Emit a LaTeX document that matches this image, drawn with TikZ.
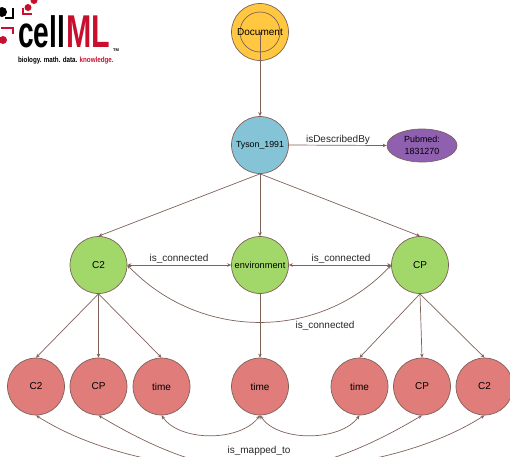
\documentclass[tikz,border=0pt]{standalone}
\usepackage{fontspec}
\setmainfont{Liberation Sans}
\usetikzlibrary{arrows.meta,shapes.geometric}
\definecolor{edgec}{HTML}{7F615A}
\definecolor{docc}{HTML}{FFC840}
\definecolor{modelc}{HTML}{85C3D6}
\definecolor{pubc}{HTML}{8F5FB0}
\definecolor{compc}{HTML}{A2D769}
\definecolor{varc}{HTML}{E07C7A}
\definecolor{logored}{HTML}{C8102E}
\tikzset{
  x=1pt,y=1pt,
  circ/.style={circle,draw=edgec,line width=.7pt,minimum size=57pt,inner sep=0pt,font=\fontsize{10}{12}\selectfont},
  docnode/.style={circ,fill=docc},
  modelnode/.style={circ,fill=modelc,font=\fontsize{8.8}{11}\selectfont},
  compnode/.style={circ,fill=compc},
  varnode/.style={circ,fill=varc},
  pubnode/.style={ellipse,draw=edgec,line width=.7pt,fill=pubc,minimum width=70pt,minimum height=33pt,inner sep=0pt,align=center,font=\fontsize{8.9}{12}\selectfont},
  conn/.style={draw=edgec,line width=.7pt,-{Stealth[length=4pt,width=3.5pt]}},
  biconn/.style={draw=edgec,line width=.7pt,{Stealth[length=4pt,width=3.5pt]}-{Stealth[length=4pt,width=3.5pt]}},
  lbl/.style={inner sep=0pt,font=\fontsize{10}{12}\selectfont,text=black!85},
}
\begin{document}
\begin{tikzpicture}
\useasboundingbox (0,0) rectangle (510,-456);
% logo
\begin{scope}
\clip (0,0) rectangle (130,-80);
\fill[black] (2,-12) circle (5);
\fill[logored] (28,-7.5) circle (3.5);
\fill[logored] (34,-0.5) circle (3.5);
\fill[logored] (3,-40) circle (4);
\draw[black,line width=2pt] (13,-8) -- (13,-18) -- (5,-18);
\draw[logored,line width=2pt] (23,-8) -- (23,-13.5) -- (32,-13.5);
\draw[logored,line width=2pt] (1,-28) -- (13,-28) -- (13,-34);
\end{scope}
\node[anchor=base west,inner sep=0pt,text=black,font=\bfseries\fontsize{44}{44}\selectfont,xscale=.64] (logocell) at (18,-47) {cell};
\node[anchor=base west,inner sep=0pt,text=logored,font=\bfseries\fontsize{46}{46}\selectfont,xscale=.66] (logoml) at (66,-47) {ML};
\node[anchor=base west,inner sep=0pt,font=\bfseries\fontsize{4}{4}\selectfont] (logotm) at (113,-51.5) {TM};
\node[anchor=base west,inner sep=0pt,font=\bfseries\fontsize{7.6}{8}\selectfont,xscale=.82] (logotag) at (18,-62) {biology. math. data. \textcolor{logored}{knowledge.}};
% nodes
\node[docnode] (doc) at (260,-32) {};
\draw[edgec,line width=.7pt] (260,-32) circle (20);
\node[inner sep=0pt,font=\fontsize{10}{12}\selectfont] (doct) at (260,-32) {Document};
\node[modelnode] (tyson) at (260,-145) {Tyson\_1991};
\node[pubnode] (pub) at (422,-145.5) {Pubmed:\\1831270};
\node[compnode] (c2) at (98.5,-265) {C2};
\node[compnode,font=\fontsize{9.2}{11}\selectfont] (env) at (260,-265) {environment};
\node[compnode] (cp) at (420,-265) {CP};
\node[varnode] (a) at (36,-386.5) {C2};
\node[varnode] (b) at (98.5,-386.5) {CP};
\node[varnode] (c) at (161.5,-386.5) {time};
\node[varnode] (d) at (260,-386.5) {time};
\node[varnode] (e) at (359.5,-386.5) {time};
\node[varnode] (f) at (422,-386.5) {CP};
\node[varnode] (g) at (484.5,-386.5) {C2};
% connectors
\draw[conn] (doct.center) -- (tyson.north);
\draw[conn] (tyson.east) -- (pub.west);
\draw[conn] (tyson.south) -- (c2.north);
\draw[conn] (tyson.south) -- (env.north);
\draw[conn] (tyson.south) -- (cp.north);
\draw[biconn] (c2.east) -- (env.west);
\draw[biconn] (env.east) -- (cp.west);
\draw[biconn] (c2.east) .. controls (200,-341) and (320,-341) .. (cp.west);
\draw[conn] (c2.south) -- (a.north);
\draw[conn] (c2.south) -- (b.north);
\draw[conn] (c2.south) -- (c.north);
\draw[conn] (env.south) -- (d.north);
\draw[conn] (cp.south) -- (e.north);
\draw[conn] (cp.south) -- (f.north);
\draw[conn] (cp.south) -- (g.north);
\draw[biconn] (c.south) .. controls (180,-442) and (240,-442) .. (d.south);
\draw[biconn] (d.south) .. controls (278,-442) and (340,-442) .. (e.south);
\begin{scope}
\clip (0,0) rectangle (510,-456);
\draw[biconn] (a.south) .. controls (150,-488) and (370,-488) .. (g.south);
\draw[biconn] (b.south) .. controls (220,-488) and (300,-488) .. (f.south);
\end{scope}
% labels
\node[lbl] (l1) at (338,-140) {isDescribedBy};
\node[lbl] (l2) at (179,-259) {is\_connected};
\node[lbl] (l3) at (341,-259) {is\_connected};
\node[lbl] (l4) at (325,-325.5) {is\_connected};
\node[lbl] (l5) at (259,-451) {is\_mapped\_to};
\end{tikzpicture}
\end{document}
